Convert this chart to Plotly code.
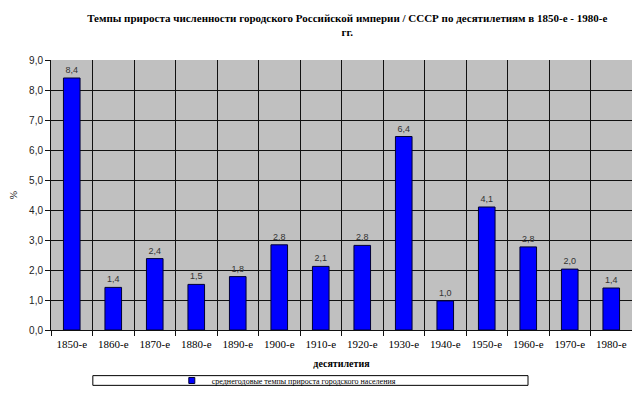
import plotly.graph_objects as go

decades = ["1850-е", "1860-е", "1870-е", "1880-е", "1890-е", "1900-е", "1910-е",
           "1920-е", "1930-е", "1940-е", "1950-е", "1960-е", "1970-е", "1980-е"]
growth = [8.4, 1.42, 2.38, 1.52, 1.78, 2.84, 2.12, 2.82, 6.45, 0.97, 4.1, 2.77, 2.03, 1.4]
labels = ["8,4", "1,4", "2,4", "1,5", "1,8", "2,8", "2,1", "2,8", "6,4", "1,0", "4,1", "2,8", "2,0", "1,4"]
series_name = "среднегодовые темпы прироста городского населения"
title = "Темпы прироста численности городского Российской империи / СССР по десятилетиям в 1850-е - 1980-е<br>гг."

serif = "'Liberation Serif', serif"
sans = "Liberation Sans"

fig = go.Figure()
fig.add_trace(go.Bar(
    x=decades, y=growth, name=series_name, showlegend=False,
    marker=dict(color="#0000FF", line=dict(color="#000033", width=1)),
    text=labels, textposition="outside", cliponaxis=False,
    textfont=dict(family=sans, size=9, color="#333333"),
))
# legend entry with a small square swatch
fig.add_trace(go.Scatter(
    x=[None], y=[None], mode="markers", name=series_name,
    marker=dict(symbol="square", size=6, color="#0000FF", line=dict(color="#000033", width=1)),
))

fig.update_layout(
    width=640, height=399,
    margin=dict(l=43, r=16, t=52, b=69),
    paper_bgcolor="white", plot_bgcolor="#C0C0C0",
    separators=", ",
    bargap=0.6,
    title=dict(text=title, x=0.53, xanchor="center", y=0.965, yanchor="top",
               font=dict(family=serif, size=11, color="black", weight="bold")),
    xaxis=dict(
        type="category", tickson="boundaries", showgrid=True, gridcolor="#111111", gridwidth=1,
        ticks="outside", ticklen=5, tickcolor="#111111", showline=True, linecolor="#111111",
        automargin=False, ticklabelstandoff=4,
        tickfont=dict(family=serif, size=11, color="black"),
        title=dict(text="десятилетия", font=dict(family=serif, size=10, color="black", weight="bold"),
                   standoff=10),
    ),
    yaxis=dict(
        range=[0, 9], dtick=1, tickformat=".1f", showgrid=True, gridcolor="#111111", gridwidth=1,
        ticks="outside", ticklen=5, tickcolor="#111111", showline=True, linecolor="#111111",
        zeroline=False, automargin=False,
        tickfont=dict(family=sans, size=10, color="#222222"),
        title=dict(text="%", font=dict(family=serif, size=10, color="black"), standoff=14),
    ),
    showlegend=True,
    legend=dict(orientation="h", x=0.405, xanchor="center", y=-0.187, yanchor="middle",
                bgcolor="rgba(0,0,0,0)", font=dict(family=serif, size=8, color="black"),
                itemwidth=30, tracegroupgap=0),
)
fig.add_shape(type="rect", xref="paper", yref="paper",
              x0=0.072, x1=0.821, y0=-0.169, y1=-0.205,
              line=dict(color="black", width=1), fillcolor="white", layer="below")

fig.write_html("out.html")
